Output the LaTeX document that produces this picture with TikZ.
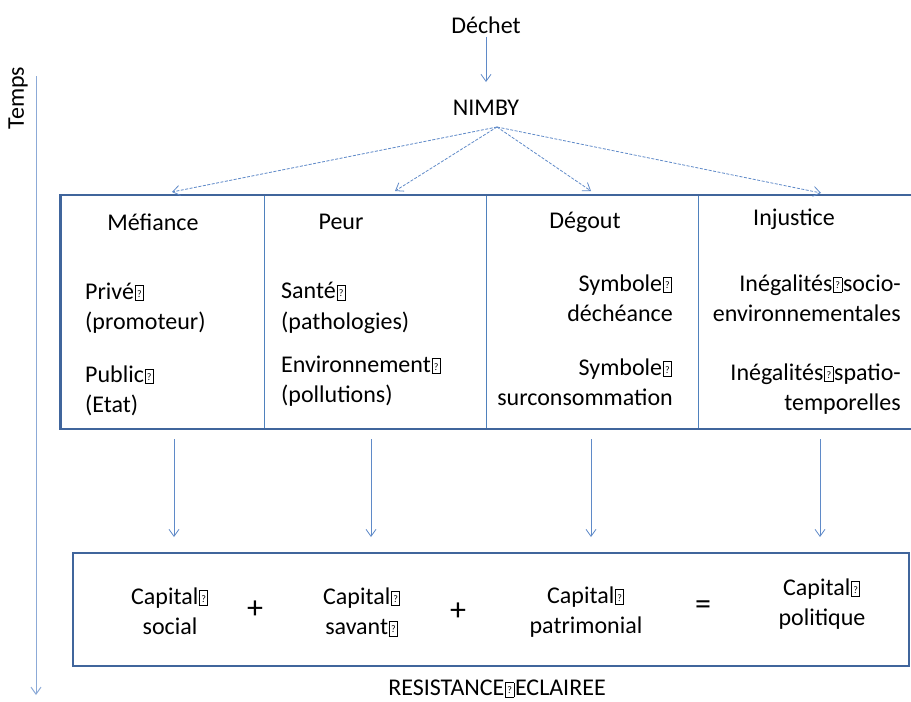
\documentclass[tikz,border=0pt]{standalone}
\usepackage{fontspec}
\setmainfont{Carlito}
\usetikzlibrary{arrows.meta}
\definecolor{tabline}{RGB}{64,101,156}
\definecolor{thinline}{RGB}{79,129,189}
\definecolor{arrcol}{RGB}{95,138,200}
\definecolor{axiscol}{RGB}{140,170,215}
\newcommand\mg{\kern0.8pt\raisebox{-1pt}{\fboxsep=0pt\fboxrule=0.7pt\framebox[9pt][c]{\rule{0pt}{14pt}\raisebox{3pt}{\fontsize{10}{10}\selectfont ?}}}\kern0.8pt}
\tikzset{
  txt/.style={inner sep=0pt, font=\fontsize{24}{30.5}\selectfont},
  sign/.style={inner sep=0pt, font=\fontsize{32}{32}\selectfont},
  solidarr/.style={draw=arrcol, line width=0.8pt, -{Straight Barb[length=7pt,width=10pt]}},
  dasharr/.style={draw=arrcol, line width=0.8pt, dash pattern=on 3pt off 1.5pt, -{Straight Barb[length=7pt,width=10pt]}},
  thick border/.style={draw=tabline, line width=2.6pt},
  divider/.style={draw=thinline, line width=0.9pt}
}
\begin{document}
\begin{tikzpicture}[x=1pt,y=-1pt]
\useasboundingbox (0,0) rectangle (911,702);

% time axis
\node[txt, rotate=90] (temps) at (18,98) {Temps};
\coordinate (ttop) at (36,76);
\coordinate (tbot) at (36,695);
\draw[draw=axiscol, line width=1pt, -{Straight Barb[length=7pt,width=10pt]}] (ttop) -- (tbot);

% top
\node[txt] (dechet) at (486,25) {Déchet};
\node[txt] (nimby) at (486,108) {NIMBY};
\draw[solidarr] (dechet.south) ++(0,3) -- (486,82);

% table
\draw[thick border] (915,195) -- (60.5,195) -- (60.5,429) -- (915,429);
\foreach \x in {264.5,486,698}{\draw[divider] (\x,196) -- (\x,428);}

\coordinate (n0) at (497,127);
\coordinate (h1) at (172,192);
\coordinate (h2) at (395,191);
\coordinate (h3) at (591,191);
\coordinate (h4) at (821,193);
\foreach \h in {h1,h2,h3,h4}{\draw[dasharr] (n0) -- (\h);}

\node[txt] (mef) at (153,222) {Méfiance};
\node[txt] (peur) at (341,222) {Peur};
\node[txt] (deg) at (585,222) {Dégout};
\node[txt] (inj) at (794,219) {Injustice};

\node[txt, anchor=west, align=left] (prive) at (85,308) {Privé\mg\\(promoteur)};
\node[txt, anchor=west, align=left] (public) at (85,391) {Public\mg\\(Etat)};
\node[txt, anchor=west, align=left] (sante) at (281,308) {Santé\mg\\(pathologies)};
\node[txt, anchor=west, align=left] (env) at (281,381) {Environnement\mg\\(pollutions)};
\node[txt, anchor=east, align=right] (sym1) at (673,298) {Symbole\mg\\déchéance};
\node[txt, anchor=east, align=right] (sym2) at (673,382) {Symbole\mg\\surconsommation};
\node[txt, anchor=east, align=right] (ineg1) at (901,298) {Inégalités\mg socio-\\environnementales};
\node[txt, anchor=east, align=right] (ineg2) at (901,389) {Inégalités\mg spatio-\\temporelles};

% arrows down
\coordinate (a1) at (174,439); \coordinate (b1) at (174,537);
\coordinate (a2) at (371,439); \coordinate (b2) at (371,537);
\coordinate (a3) at (591,439); \coordinate (b3) at (591,537);
\coordinate (a4) at (820,439); \coordinate (b4) at (820,537);
\foreach \i in {1,2,3,4}{\draw[solidarr] (a\i) -- (b\i);}

% bottom box
\draw[thick border] (73,553) rectangle (909,666);
\node[txt, align=center] (cs) at (170,611) {Capital\mg\\social};
\node[sign] (p1) at (255,610) {+};
\node[txt, align=center] (csa) at (362,612) {Capital\mg\\savant\mg};
\node[sign] (p2) at (458,612) {+};
\node[txt, align=center] (cp) at (586,612) {Capital\mg\\patrimonial};
\node[sign] (eq) at (703,608) {=};
\node[txt, align=center] (cpo) at (822,604) {Capital\mg\\politique};

\node[txt] (res) at (497,689) {RESISTANCE\mg ECLAIREE};
\end{tikzpicture}
\end{document}
